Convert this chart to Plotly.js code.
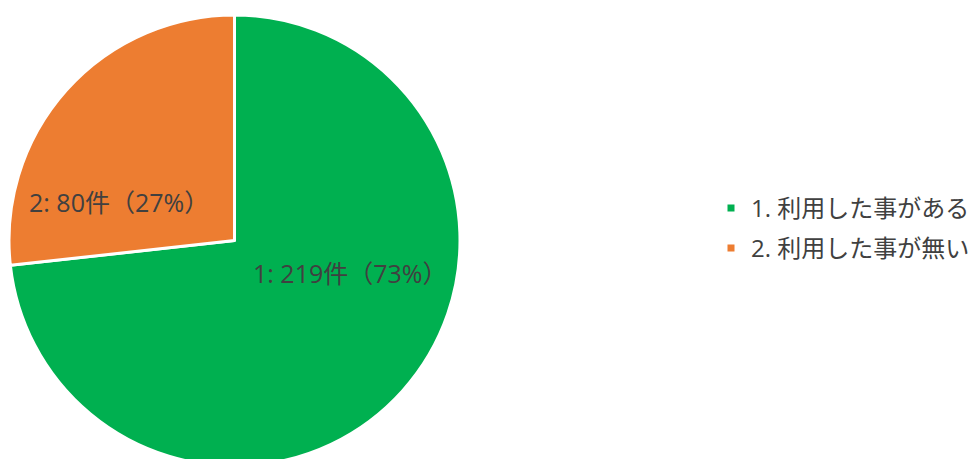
<!DOCTYPE html>
<html><head><meta charset="utf-8">
<script src="https://cdn.plot.ly/plotly-3.0.1.min.js"></script>
<style>html,body{margin:0;padding:0;overflow:hidden;background:#fff;width:974px;height:459px}#chart{width:1000px;height:481px}</style>
</head><body><div id="chart"></div>
<script>
const categories = ['1. 利用した事がある', '2. 利用した事が無い'];
const counts = [219, 80];
const percents = [73, 27];
const shortIds = ['1', '2'];
const colors = ['#00b050', '#ed7d31'];
const labelPos = [[0.360, 0.428], [0.122, 0.586]];

const FONT = '"Open Sans", "Noto Sans CJK JP", sans-serif';
const textColor = '#404040';
const W = 1000, H = 481;

const traces = [{
  type: 'pie',
  values: counts,
  labels: categories,
  sort: false,
  direction: 'clockwise',
  rotation: 0,
  marker: {colors: colors, line: {color: '#ffffff', width: 3}},
  textinfo: 'none',
  hoverinfo: 'label+value+percent',
  showlegend: false,
  domain: {x: [0, 469 / W], y: [0, 1]}
}];
categories.forEach((c, i) => {
  traces.push({
    type: 'scatter', mode: 'markers', x: [null], y: [null], name: c,
    marker: {symbol: 'square', size: 7, color: colors[i]},
    legendgroup: 'g' + i, showlegend: true, hoverinfo: 'skip'
  });
});

const annotations = categories.map((c, i) => ({
  xref: 'paper', yref: 'paper', x: labelPos[i][0] * 974 / W, y: labelPos[i][1],
  xanchor: 'center', yanchor: 'middle', showarrow: false,
  text: shortIds[i] + ': ' + counts[i] + '件（' + percents[i] + '%）',
  font: {family: FONT, size: 25, color: textColor}
}));

const layout = {
  width: W, height: H,
  margin: {l: 0, r: 0, t: 15, b: 15},
  paper_bgcolor: '#ffffff', plot_bgcolor: '#ffffff',
  xaxis: {visible: false}, yaxis: {visible: false},
  showlegend: true,
  legend: {
    x: 0.711, y: 0.527, xanchor: 'left', yanchor: 'middle',
    font: {family: FONT, size: 24, color: textColor},
    tracegroupgap: 6, itemwidth: 30, bgcolor: 'rgba(0,0,0,0)'
  },
  annotations: annotations
};
Plotly.newPlot('chart', traces, layout, {displayModeBar: false, staticPlot: true});
</script></body></html>
